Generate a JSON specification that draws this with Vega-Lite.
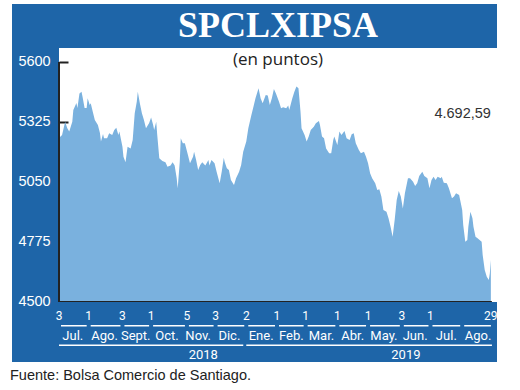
{
  "$schema": "https://vega.github.io/schema/vega-lite/v6.json",
  "background": "white",
  "padding": {"left": 10, "top": 4, "right": 0, "bottom": 0},
  "config": {"view": {"stroke": null}, "concat": {"spacing": 0}},
  "title": {"text": "Fuente: Bolsa Comercio de Santiago.", "orient": "bottom", "anchor": "start", "font": "Liberation Sans", "fontSize": 14.5, "fontWeight": "normal", "color": "#222222", "offset": 7, "dx": -2},
  "datasets": {
    "ylabels": [{"v": 4500}, {"v": 4775}, {"v": 5050}, {"v": 5325}, {"v": 5600}],
    "months": [
      {"start": "2018-07-03", "end": "2018-08-01", "name": "Jul."},
      {"start": "2018-08-01", "end": "2018-09-03", "name": "Ago."},
      {"start": "2018-09-03", "end": "2018-10-01", "name": "Sept."},
      {"start": "2018-10-01", "end": "2018-11-05", "name": "Oct."},
      {"start": "2018-11-05", "end": "2018-12-03", "name": "Nov."},
      {"start": "2018-12-03", "end": "2019-01-02", "name": "Dic."},
      {"start": "2019-01-02", "end": "2019-02-01", "name": "Ene."},
      {"start": "2019-02-01", "end": "2019-03-01", "name": "Feb."},
      {"start": "2019-03-01", "end": "2019-04-01", "name": "Mar."},
      {"start": "2019-04-01", "end": "2019-05-01", "name": "Abr."},
      {"start": "2019-05-01", "end": "2019-06-03", "name": "May."},
      {"start": "2019-06-03", "end": "2019-07-01", "name": "Jun."},
      {"start": "2019-07-01", "end": "2019-08-01", "name": "Jul."},
      {"start": "2019-08-01", "end": "2019-08-31", "name": "Ago."}
    ],
    "ticks": [
      {"date": "2018-07-03", "label": "3"},
      {"date": "2018-08-01", "label": "1"},
      {"date": "2018-09-03", "label": "3"},
      {"date": "2018-10-01", "label": "1"},
      {"date": "2018-11-05", "label": "5"},
      {"date": "2018-12-03", "label": "3"},
      {"date": "2019-01-02", "label": "2"},
      {"date": "2019-02-01", "label": "1"},
      {"date": "2019-03-01", "label": "1"},
      {"date": "2019-04-01", "label": "1"},
      {"date": "2019-05-01", "label": "1"},
      {"date": "2019-06-03", "label": "3"},
      {"date": "2019-07-01", "label": "1"},
      {"date": "2019-08-29", "label": "29"}
    ],
    "years": [
      {"start": "2018-07-03", "end": "2019-01-01", "label": "2018", "at": "2018-11-21"},
      {"start": "2019-01-02", "end": "2019-09-01", "label": "2019", "at": "2019-06-07"}
    ],
    "index": [
      {"date": "2018-07-03", "value": 5252}, {"date": "2018-07-06", "value": 5265}, {"date": "2018-07-09", "value": 5326},
      {"date": "2018-07-11", "value": 5297}, {"date": "2018-07-13", "value": 5281}, {"date": "2018-07-16", "value": 5326},
      {"date": "2018-07-17", "value": 5380}, {"date": "2018-07-20", "value": 5412}, {"date": "2018-07-21", "value": 5389},
      {"date": "2018-07-23", "value": 5456}, {"date": "2018-07-25", "value": 5464}, {"date": "2018-07-26", "value": 5441},
      {"date": "2018-07-28", "value": 5389}, {"date": "2018-07-30", "value": 5389}, {"date": "2018-07-31", "value": 5434},
      {"date": "2018-08-02", "value": 5403}, {"date": "2018-08-03", "value": 5411}, {"date": "2018-08-05", "value": 5372},
      {"date": "2018-08-07", "value": 5334}, {"date": "2018-08-10", "value": 5311}, {"date": "2018-08-12", "value": 5275},
      {"date": "2018-08-13", "value": 5235}, {"date": "2018-08-15", "value": 5270}, {"date": "2018-08-16", "value": 5250},
      {"date": "2018-08-19", "value": 5250}, {"date": "2018-08-21", "value": 5273}, {"date": "2018-08-24", "value": 5265},
      {"date": "2018-08-26", "value": 5288}, {"date": "2018-08-28", "value": 5299}, {"date": "2018-08-30", "value": 5265},
      {"date": "2018-08-31", "value": 5281}, {"date": "2018-09-03", "value": 5212}, {"date": "2018-09-04", "value": 5166},
      {"date": "2018-09-06", "value": 5140}, {"date": "2018-09-08", "value": 5212}, {"date": "2018-09-11", "value": 5204},
      {"date": "2018-09-13", "value": 5242}, {"date": "2018-09-15", "value": 5365}, {"date": "2018-09-17", "value": 5418},
      {"date": "2018-09-18", "value": 5464}, {"date": "2018-09-20", "value": 5411}, {"date": "2018-09-22", "value": 5365},
      {"date": "2018-09-24", "value": 5334}, {"date": "2018-09-26", "value": 5296}, {"date": "2018-09-29", "value": 5319},
      {"date": "2018-10-01", "value": 5345}, {"date": "2018-10-03", "value": 5311}, {"date": "2018-10-04", "value": 5288},
      {"date": "2018-10-06", "value": 5326}, {"date": "2018-10-07", "value": 5265}, {"date": "2018-10-09", "value": 5159},
      {"date": "2018-10-12", "value": 5146}, {"date": "2018-10-15", "value": 5140}, {"date": "2018-10-17", "value": 5120},
      {"date": "2018-10-20", "value": 5125}, {"date": "2018-10-22", "value": 5140}, {"date": "2018-10-24", "value": 5125},
      {"date": "2018-10-26", "value": 5067}, {"date": "2018-10-27", "value": 5021}, {"date": "2018-10-29", "value": 5143},
      {"date": "2018-10-30", "value": 5250}, {"date": "2018-11-01", "value": 5227}, {"date": "2018-11-03", "value": 5227},
      {"date": "2018-11-06", "value": 5174}, {"date": "2018-11-08", "value": 5136}, {"date": "2018-11-11", "value": 5166},
      {"date": "2018-11-12", "value": 5189}, {"date": "2018-11-14", "value": 5151}, {"date": "2018-11-16", "value": 5105},
      {"date": "2018-11-18", "value": 5128}, {"date": "2018-11-20", "value": 5140}, {"date": "2018-11-23", "value": 5125},
      {"date": "2018-11-26", "value": 5151}, {"date": "2018-11-27", "value": 5125}, {"date": "2018-11-29", "value": 5151},
      {"date": "2018-12-02", "value": 5136}, {"date": "2018-12-04", "value": 5097}, {"date": "2018-12-07", "value": 5044},
      {"date": "2018-12-09", "value": 5097}, {"date": "2018-12-11", "value": 5161}, {"date": "2018-12-12", "value": 5140},
      {"date": "2018-12-14", "value": 5113}, {"date": "2018-12-16", "value": 5105}, {"date": "2018-12-18", "value": 5059},
      {"date": "2018-12-21", "value": 5036}, {"date": "2018-12-23", "value": 5067}, {"date": "2018-12-26", "value": 5097},
      {"date": "2018-12-28", "value": 5128}, {"date": "2018-12-30", "value": 5189}, {"date": "2019-01-02", "value": 5235},
      {"date": "2019-01-04", "value": 5296}, {"date": "2019-01-07", "value": 5357}, {"date": "2019-01-09", "value": 5395},
      {"date": "2019-01-11", "value": 5434}, {"date": "2019-01-14", "value": 5479}, {"date": "2019-01-16", "value": 5434},
      {"date": "2019-01-18", "value": 5411}, {"date": "2019-01-21", "value": 5449}, {"date": "2019-01-23", "value": 5446},
      {"date": "2019-01-25", "value": 5403}, {"date": "2019-01-27", "value": 5434}, {"date": "2019-01-29", "value": 5476},
      {"date": "2019-01-31", "value": 5456}, {"date": "2019-02-03", "value": 5418}, {"date": "2019-02-05", "value": 5388},
      {"date": "2019-02-07", "value": 5392}, {"date": "2019-02-10", "value": 5388}, {"date": "2019-02-12", "value": 5400},
      {"date": "2019-02-13", "value": 5380}, {"date": "2019-02-16", "value": 5434}, {"date": "2019-02-18", "value": 5464},
      {"date": "2019-02-20", "value": 5487}, {"date": "2019-02-22", "value": 5479}, {"date": "2019-02-24", "value": 5372},
      {"date": "2019-02-25", "value": 5296}, {"date": "2019-02-28", "value": 5265}, {"date": "2019-03-02", "value": 5235},
      {"date": "2019-03-04", "value": 5258}, {"date": "2019-03-06", "value": 5288}, {"date": "2019-03-09", "value": 5303},
      {"date": "2019-03-11", "value": 5319}, {"date": "2019-03-14", "value": 5330}, {"date": "2019-03-15", "value": 5311},
      {"date": "2019-03-17", "value": 5258}, {"date": "2019-03-19", "value": 5250}, {"date": "2019-03-21", "value": 5204},
      {"date": "2019-03-24", "value": 5182}, {"date": "2019-03-26", "value": 5182}, {"date": "2019-03-28", "value": 5242},
      {"date": "2019-03-29", "value": 5258}, {"date": "2019-04-01", "value": 5220}, {"date": "2019-04-03", "value": 5281},
      {"date": "2019-04-05", "value": 5265}, {"date": "2019-04-08", "value": 5284}, {"date": "2019-04-10", "value": 5250},
      {"date": "2019-04-13", "value": 5242}, {"date": "2019-04-15", "value": 5269}, {"date": "2019-04-17", "value": 5273},
      {"date": "2019-04-19", "value": 5227}, {"date": "2019-04-22", "value": 5197}, {"date": "2019-04-24", "value": 5182},
      {"date": "2019-04-27", "value": 5189}, {"date": "2019-04-29", "value": 5166}, {"date": "2019-05-01", "value": 5136},
      {"date": "2019-05-03", "value": 5090}, {"date": "2019-05-05", "value": 5067}, {"date": "2019-05-08", "value": 5044},
      {"date": "2019-05-10", "value": 5013}, {"date": "2019-05-12", "value": 5017}, {"date": "2019-05-14", "value": 4983},
      {"date": "2019-05-16", "value": 4922}, {"date": "2019-05-19", "value": 4914}, {"date": "2019-05-21", "value": 4884},
      {"date": "2019-05-23", "value": 4845}, {"date": "2019-05-25", "value": 4799}, {"date": "2019-05-27", "value": 4876},
      {"date": "2019-05-29", "value": 4967}, {"date": "2019-05-31", "value": 5009}, {"date": "2019-06-02", "value": 4983},
      {"date": "2019-06-04", "value": 4929}, {"date": "2019-06-06", "value": 4998}, {"date": "2019-06-09", "value": 5067},
      {"date": "2019-06-11", "value": 5067}, {"date": "2019-06-14", "value": 5051}, {"date": "2019-06-16", "value": 5032},
      {"date": "2019-06-18", "value": 5044}, {"date": "2019-06-20", "value": 5077}, {"date": "2019-06-23", "value": 5097},
      {"date": "2019-06-25", "value": 5077}, {"date": "2019-06-28", "value": 5067}, {"date": "2019-06-30", "value": 5021},
      {"date": "2019-07-02", "value": 5059}, {"date": "2019-07-04", "value": 5074}, {"date": "2019-07-06", "value": 5059},
      {"date": "2019-07-08", "value": 5074}, {"date": "2019-07-11", "value": 5067}, {"date": "2019-07-12", "value": 5074},
      {"date": "2019-07-14", "value": 5047}, {"date": "2019-07-17", "value": 5044}, {"date": "2019-07-19", "value": 5021},
      {"date": "2019-07-22", "value": 4975}, {"date": "2019-07-24", "value": 4983}, {"date": "2019-07-26", "value": 4998},
      {"date": "2019-07-29", "value": 4990}, {"date": "2019-07-30", "value": 4967}, {"date": "2019-08-01", "value": 4922},
      {"date": "2019-08-02", "value": 4853}, {"date": "2019-08-04", "value": 4776}, {"date": "2019-08-06", "value": 4784},
      {"date": "2019-08-07", "value": 4845}, {"date": "2019-08-09", "value": 4914}, {"date": "2019-08-11", "value": 4884},
      {"date": "2019-08-12", "value": 4845}, {"date": "2019-08-14", "value": 4799}, {"date": "2019-08-16", "value": 4792},
      {"date": "2019-08-18", "value": 4784}, {"date": "2019-08-20", "value": 4776}, {"date": "2019-08-21", "value": 4715},
      {"date": "2019-08-23", "value": 4647}, {"date": "2019-08-25", "value": 4616}, {"date": "2019-08-27", "value": 4601},
      {"date": "2019-08-28", "value": 4632}, {"date": "2019-08-29", "value": 4692.59}
    ]
  },
  "spacing": 0,
  "bounds": "flush",
  "hconcat": [
    {
      "width": 47,
      "height": 358,
      "view": {"fill": "#1e65a8", "stroke": null},
      "data": {"name": "ylabels"},
      "mark": {"type": "text", "color": "white", "font": "Liberation Sans", "fontSize": 14.5, "align": "center", "dx": -1},
      "encoding": {
        "y": {"field": "v", "type": "quantitative", "scale": {"domain": [4225, 5865.8], "nice": false, "zero": false}, "axis": null},
        "text": {"field": "v", "type": "quantitative", "format": "d"}
      }
    },
    {
      "spacing": 0,
      "bounds": "flush",
      "vconcat": [
        {
          "width": 438,
          "height": 44,
          "view": {"fill": "#1e65a8", "stroke": null},
          "data": {"values": [{"title": "SPCLXIPSA"}]},
          "mark": {"type": "text", "color": "white", "font": "Liberation Serif", "fontWeight": "bold", "fontSize": 36},
          "encoding": {"text": {"field": "title"}}
        },
        {
          "width": 438,
          "height": 254,
          "view": {"fill": "white", "stroke": null},
          "layer": [
            {
              "data": {"name": "index"},
              "mark": {"type": "area", "color": "#7ab1de", "opacity": 1, "clip": true},
              "encoding": {
                "x": {"field": "date", "type": "temporal", "scale": {"domain": [{"year": 2018, "month": 7, "date": 3}, {"year": 2019, "month": 9, "date": 4}], "nice": false}, "axis": null},
                "y": {"field": "value", "type": "quantitative", "scale": {"domain": [4500, 5664], "nice": false, "zero": false},
                      "axis": {"orient": "left", "values": [4500, 4775, 5050, 5325, 5600], "labels": false, "domain": false, "grid": false, "ticks": true, "tickSize": -9, "tickColor": "#222222", "tickWidth": 2, "title": null}}
              }
            },
            {
              "data": {"values": [{}]},
              "mark": {"type": "rule", "color": "#222222", "strokeWidth": 2},
              "encoding": {
                "x": {"datum": {"year": 2018, "month": 7, "date": 3}, "type": "temporal"},
                "y": {"datum": 5600},
                "y2": {"datum": 4500}
              }
            },
            {
              "data": {"values": [{}]},
              "mark": {"type": "rule", "color": "#222222", "strokeWidth": 2},
              "encoding": {
                "x": {"datum": {"year": 2018, "month": 7, "date": 3}, "type": "temporal"},
                "x2": {"datum": {"year": 2019, "month": 8, "date": 30}},
                "y": {"datum": 4500}
              }
            },
            {
              "data": {"values": [{"label": "(en puntos)"}]},
              "mark": {"type": "text", "font": "Open Sans", "fontSize": 17, "color": "#222222"},
              "encoding": {"text": {"field": "label"}, "y": {"datum": 5610}}
            },
            {
              "data": {"values": [{"date": "2019-08-29", "label": "4.692,59"}]},
              "mark": {"type": "text", "align": "right", "font": "Liberation Sans", "fontSize": 14.5, "color": "#333333"},
              "encoding": {"x": {"field": "date", "type": "temporal"}, "y": {"datum": 5362}, "text": {"field": "label"}}
            }
          ]
        },
        {
          "width": 438,
          "height": 60,
          "view": {"fill": "#1e65a8", "stroke": null},
          "layer": [
            {
              "data": {"name": "months"},
              "mark": {"type": "rule", "color": "white", "strokeWidth": 1.5, "xOffset": 2, "x2Offset": -2},
              "encoding": {
                "x": {"field": "start", "type": "temporal", "scale": {"domain": [{"year": 2018, "month": 7, "date": 3}, {"year": 2019, "month": 9, "date": 4}], "nice": false}, "axis": null},
                "x2": {"field": "end"},
                "y": {"datum": "mline", "type": "nominal", "scale": {"type": "point", "domain": ["day", "mline", "month", "yline", "year"], "range": [14, 53], "padding": 0}, "axis": null}
              }
            },
            {
              "data": {"name": "ticks"},
              "mark": {"type": "text", "color": "white", "font": "Liberation Sans Narrow, Roboto", "fontSize": 12},
              "encoding": {
                "x": {"field": "date", "type": "temporal"},
                "y": {"datum": "day", "type": "nominal", "scale": {"type": "point"}},
                "text": {"field": "label"}
              }
            },
            {
              "data": {"name": "months"},
              "mark": {"type": "text", "color": "white", "font": "Liberation Sans Narrow, Roboto", "fontSize": 13},
              "encoding": {
                "x": {"field": "start", "timeUnit": "yearmonth", "type": "temporal", "bandPosition": 0.5},
                "y": {"datum": "month", "type": "nominal", "scale": {"type": "point"}},
                "text": {"field": "name"}
              }
            },
            {
              "data": {"name": "years"},
              "mark": {"type": "rule", "color": "white", "strokeWidth": 1.5, "xOffset": 0, "x2Offset": -2},
              "encoding": {
                "x": {"field": "start", "type": "temporal"},
                "x2": {"field": "end"},
                "y": {"datum": "yline", "type": "nominal", "scale": {"type": "point"}}
              }
            },
            {
              "data": {"name": "years"},
              "mark": {"type": "text", "color": "white", "font": "Liberation Sans Narrow, Roboto", "fontSize": 13},
              "encoding": {
                "x": {"field": "at", "type": "temporal"},
                "y": {"datum": "year", "type": "nominal", "scale": {"type": "point"}},
                "text": {"field": "label"}
              }
            }
          ]
        }
      ]
    }
  ]
}
